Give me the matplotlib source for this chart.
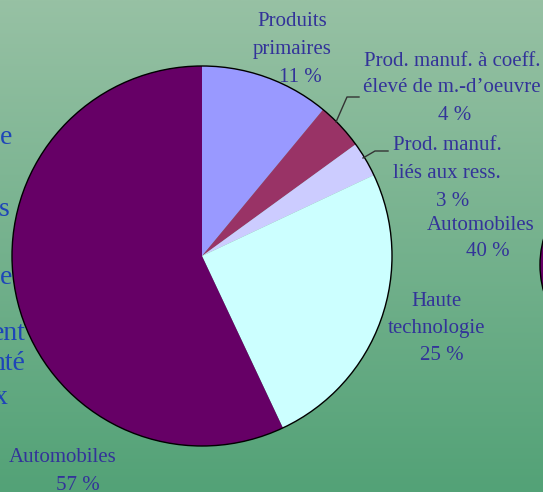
import numpy as np
import matplotlib
matplotlib.use("Agg")
import matplotlib.pyplot as plt
from matplotlib.colors import LinearSegmentedColormap

# share of exports by category (%)
categories = ["Produits\nprimaires",
              "Prod. manuf. à coeff.\nélevé de m.-d\u2019oeuvre",
              "Prod. manuf.\nliés aux ress.",
              "Haute\ntechnologie",
              "Automobiles"]
shares = [11, 4, 3, 25, 57]
colors = ["#9999FF", "#993366", "#CCCCFF", "#CCFFFF", "#660066"]

# second pie, only its edge shows on the right
other_label = "Automobiles"
other_share = 40

# bits of a text box cut off at the left edge
left_bits = ["e", "s", "e", "ent", "nté", "x"]

W, H = 543, 492
fig = plt.figure(figsize=(W / 100, H / 100), dpi=100)
ax = fig.add_axes([0, 0, 1, 1])

# green gradient background
bg = LinearSegmentedColormap.from_list("bg", ["#53A277", "#97C1A4"])
grad = np.linspace(0, 1, 256).reshape(-1, 1)
ax.imshow(grad, cmap=bg, extent=[0, W, 0, H], origin="lower", aspect="auto", zorder=0)

txt_col = "#333399"
serif = "Liberation Serif"

# left fragments (behind the pie)
left_y = [138, 210, 278, 333, 363, 398]
left_x = [12, 10, 12, 26, 25, 8]
for s, x, y in zip(left_bits, left_x, left_y):
    ax.text(x, H - y, s, ha="right", va="center", fontsize=20, family=serif,
            color="#1E45B8", zorder=1)

# main pie
cx, cy, r = 202, H - 256, 190
wedges, _ = ax.pie(shares, colors=colors, startangle=90, counterclock=False,
                   center=(cx, cy), radius=r, frame=True,
                   wedgeprops=dict(linewidth=0))
for w in wedges:
    w.set_zorder(2)
ax.add_patch(plt.Circle((cx, cy), r, fill=False, ec="black", lw=1, zorder=3))

# second pie at the right edge
w2, _ = ax.pie([other_share], colors=["#660066"], center=(638, H - 265), radius=98,
               frame=True, wedgeprops=dict(linewidth=1, edgecolor="black"))
for w in w2:
    w.set_zorder(2)
ax.set_xlim(0, W)
ax.set_ylim(0, H)
ax.axis("off")

# labels: (x of name lines, x of value line, y of first line, line step)
label_pos = [(292, 300, 21, 28.5), (452, 455, 61, 27), (447, 453, 146, 28),
             (437, 442, 302, 27), (63, 78, 457, 29)]
for name, val, (x, xv, y0, step) in zip(categories, shares, label_pos):
    lines = name.split("\n")
    for i, ln in enumerate(lines):
        ax.text(x, H - (y0 + i * step), ln, ha="center", va="center", fontsize=15,
                family=serif, color=txt_col, zorder=4)
    ax.text(xv, H - (y0 + len(lines) * step), "%d %%" % val, ha="center",
            va="center", fontsize=15, family=serif, color=txt_col, zorder=4)

ax.text(481, H - 225, other_label, ha="center", va="center", fontsize=15,
        family=serif, color=txt_col, zorder=4)
ax.text(488, H - 251, "%d %%" % other_share, ha="center", va="center", fontsize=15,
        family=serif, color=txt_col, zorder=4)

# leader lines for the two small slices
ax.plot([359, 347, 336], [H - 97, H - 97, H - 122], color="#333333", lw=1, zorder=4)
ax.plot([388, 375, 363], [H - 151, H - 151, H - 158], color="#333333", lw=1, zorder=4)

fig.savefig("out.png", dpi=100)
